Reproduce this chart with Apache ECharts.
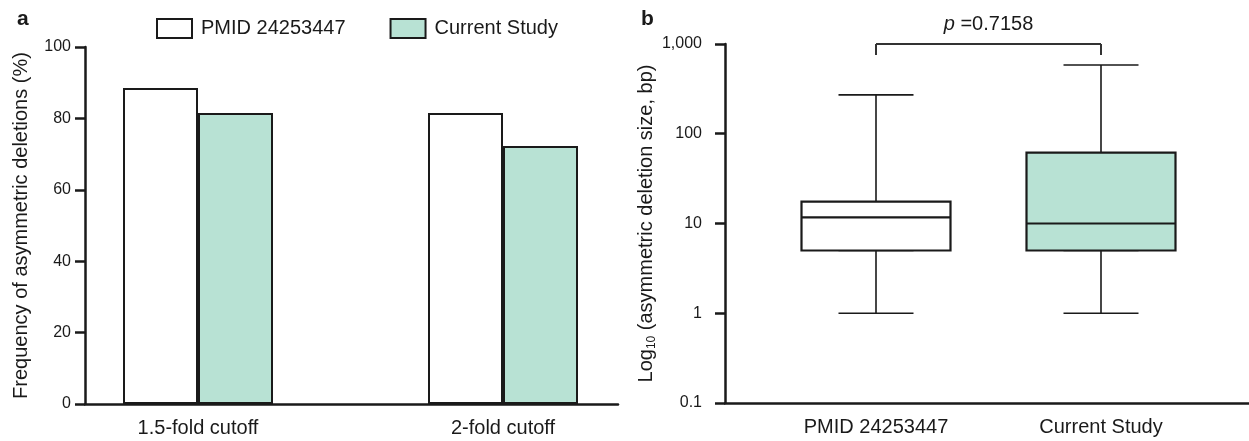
<!DOCTYPE html>
<html>
<head>
<meta charset="utf-8">
<script src="https://cdn.jsdelivr.net/npm/echarts@6/dist/echarts.min.js"></script>
<style>
  html, body { margin: 0; padding: 0; background: #fff; }
  #chart { width: 1249px; height: 441px; }
</style>
</head>
<body>
<div id="chart"></div>
<script>
// panel a
var cutoffs = ['1.5-fold cutoff', '2-fold cutoff'];
var pmidFreq = [88.5, 81.5];
var currentFreq = [81.5, 72.3];
var freqTicks = { min: 0, max: 100, interval: 20 };

// panel b  [min, q1, median, q3, max]
var studies = ['PMID 24253447', 'Current Study'];
var pmidBox = [1, 5, 11.7, 17.5, 271];
var currentBox = [1, 5, 10, 61.5, 584];
var sizeRange = { min: 0.1, max: 1000 };
var pLabel = '0.7158';

var green = '#b8e2d4';
var ink = '#1a1a1a';
var font = 'Liberation Sans, Arial, sans-serif';

var boxes = [pmidBox, currentBox];
var fills = ['#ffffff', green];

// whiskers drawn as a narrow box whose body collapses onto q1 (hidden under the real box)
var whiskerData = boxes.map(function (b) { return [b[0], b[1], b[1], b[1], b[4]]; });
var boxData = boxes.map(function (b, i) {
  return { value: [b[1], b[1], b[2], b[3], b[3]], itemStyle: { color: fills[i] } };
});

var chart = echarts.init(document.getElementById('chart'), null, { renderer: 'canvas' });

var lineAxis = { show: true, onZero: false, lineStyle: { color: ink, width: 2.5 } };
var boxGrid = { left: 763.5, top: 44, width: 450, bottom: 38 };

chart.setOption({
  animation: false,
  textStyle: { fontFamily: font, color: ink },
  title: [
    { text: 'a', left: 12, top: 4, textStyle: { fontSize: 21, fontWeight: 'bold', fontFamily: font, color: ink } },
    { text: 'b', left: 636, top: 4, textStyle: { fontSize: 21, fontWeight: 'bold', fontFamily: font, color: ink } }
  ],
  legend: {
    data: ['PMID 24253447', 'Current Study'],
    left: 151, top: 13,
    icon: 'rect',
    itemWidth: 35, itemHeight: 19, itemGap: 44,
    textStyle: { fontSize: 20, fontFamily: font, color: ink, padding: [0, 0, 0, 4] }
  },
  grid: [
    { left: 85, top: 47, width: 533, bottom: 37 },
    { left: 45.5, top: 47, width: 610, bottom: 37 },
    { left: 725, top: 44, right: 0, bottom: 38 },
    boxGrid,
    boxGrid
  ],
  xAxis: [
    { gridIndex: 0, type: 'value', min: 0, max: 1, axisLine: lineAxis, axisTick: { show: false },
      axisLabel: { show: false }, splitLine: { show: false } },
    { gridIndex: 1, type: 'category', data: cutoffs, axisLine: { show: false }, axisTick: { show: false },
      axisLabel: { fontSize: 20, color: ink, margin: 14 } },
    { gridIndex: 2, type: 'value', min: 0, max: 1, axisLine: lineAxis, axisTick: { show: false },
      axisLabel: { show: false }, splitLine: { show: false } },
    { gridIndex: 3, type: 'category', data: studies, axisLine: { show: false }, axisTick: { show: false },
      axisLabel: { fontSize: 20, color: ink, margin: 14 } },
    { gridIndex: 4, type: 'category', data: studies, show: false }
  ],
  yAxis: [
    { gridIndex: 0, type: 'value', min: freqTicks.min, max: freqTicks.max, interval: freqTicks.interval,
      axisLine: lineAxis, axisTick: { show: true, length: 10, lineStyle: { color: ink, width: 2.5 } },
      axisLabel: { fontSize: 16, color: ink, margin: 14 }, splitLine: { show: false },
      name: 'Frequency of asymmetric deletions (%)', nameLocation: 'middle', nameGap: 54,
      nameTextStyle: { fontSize: 20, color: ink } },
    { gridIndex: 1, type: 'value', min: freqTicks.min, max: freqTicks.max, show: false },
    { gridIndex: 2, type: 'log', logBase: 10, min: sizeRange.min, max: sizeRange.max,
      axisLine: lineAxis, axisTick: { show: true, length: 10, lineStyle: { color: ink, width: 2.5 } },
      axisLabel: { fontSize: 16, color: ink, margin: 23,
        formatter: function (v) { return Number(v).toLocaleString('en-US'); } },
      splitLine: { show: false }, minorTick: { show: false },
      name: '{t|Log}{s|10}{t| (asymmetric deletion size, bp)}', nameLocation: 'middle', nameGap: 64,
      nameTextStyle: { fontSize: 20, color: ink,
        rich: { t: { fontSize: 20, color: ink, lineHeight: 24, fontFamily: font },
                s: { fontSize: 12, color: ink, lineHeight: 24, fontFamily: font, verticalAlign: 'bottom', padding: [10, 0, 0, 0] } } } },
    { gridIndex: 3, type: 'log', logBase: 10, min: sizeRange.min, max: sizeRange.max, show: false },
    { gridIndex: 4, type: 'log', logBase: 10, min: sizeRange.min, max: sizeRange.max, show: false }
  ],
  series: [
    { name: 'PMID 24253447', type: 'bar', xAxisIndex: 1, yAxisIndex: 1, data: pmidFreq,
      barWidth: 75, barGap: '0%',
      itemStyle: { color: '#ffffff', borderColor: ink, borderWidth: 2 } },
    { name: 'Current Study', type: 'bar', xAxisIndex: 1, yAxisIndex: 1, data: currentFreq,
      barWidth: 75, barGap: '0%',
      itemStyle: { color: green, borderColor: ink, borderWidth: 2 } },
    { name: 'whiskers', type: 'boxplot', xAxisIndex: 4, yAxisIndex: 4, z: 2,
      boxWidth: [75, 75], data: whiskerData,
      itemStyle: { color: 'rgba(0,0,0,0)', borderColor: ink, borderWidth: 1.6 } },
    { name: 'boxes', type: 'boxplot', xAxisIndex: 3, yAxisIndex: 3, z: 3,
      boxWidth: [149, 149], data: boxData,
      itemStyle: { borderColor: ink, borderWidth: 2.2 },
      markLine: {
        silent: true, symbol: 'none', animation: false,
        lineStyle: { color: '#333', width: 2, type: 'solid' },
        label: { show: false },
        data: [
          [{ coord: [studies[0], 1000], label: { show: true, position: 'middle', distance: 10,
               formatter: '{i|p} =' + pLabel, fontSize: 20, color: ink, fontFamily: font,
               rich: { i: { fontStyle: 'italic', fontSize: 20, color: ink, fontFamily: font } } } },
           { coord: [studies[1], 1000] }],
          [{ coord: [studies[0], 1000] }, { coord: [studies[0], 755] }],
          [{ coord: [studies[1], 1000] }, { coord: [studies[1], 755] }]
        ]
      } }
  ]
});
</script>
</body>
</html>
